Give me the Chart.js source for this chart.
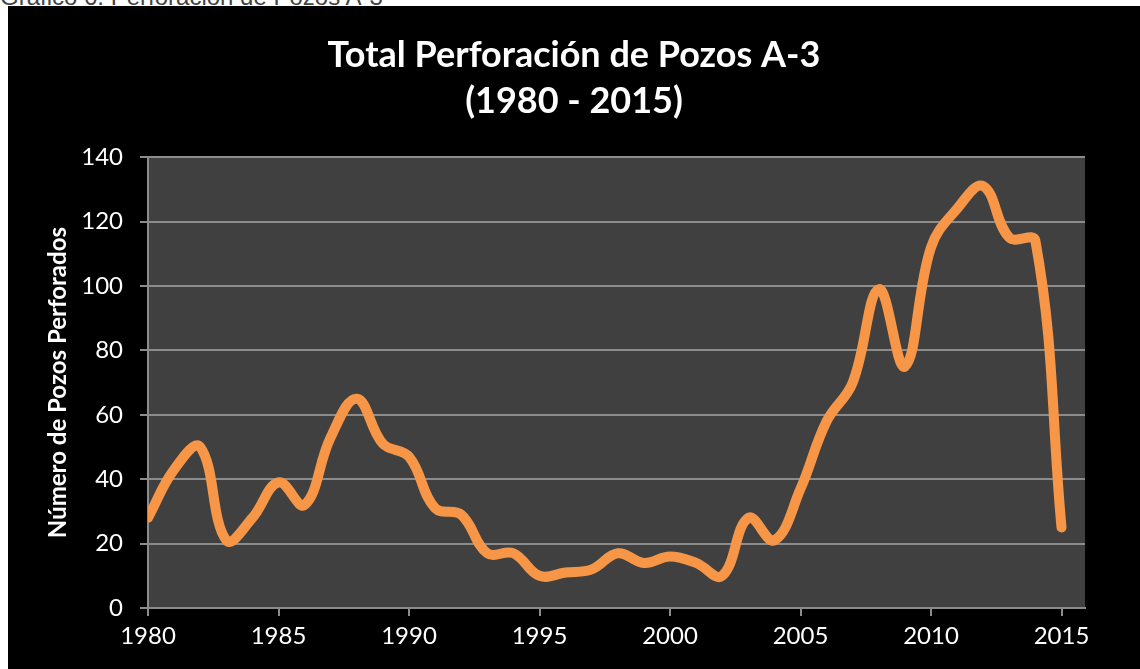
<!DOCTYPE html>
<html>
<head>
    <title>Total Perforación de Pozos A-3</title>
    <script src="https://cdn.jsdelivr.net/npm/chart.js@4.4.1/dist/chart.umd.min.js"></script>
    <style>
        body { margin: 0; background: #fff; width: 1140px; height: 669px; overflow: hidden; position: relative; }
        #caption { position: absolute; left: 0; top: -17px; font: 24px Arial, "Liberation Sans", sans-serif; color: #444; white-space: nowrap; }
        #box { position: absolute; left: 8px; top: 6px; width: 1132px; height: 663px; background: #000; }
    </style>
</head>
<body>
    <div id="caption">Gráfico 6. Perforación de Pozos A-3</div>
    <div id="box"><canvas id="myChart" width="1132" height="663"></canvas></div>

    <script>
        var years = [1980, 1981, 1982, 1983, 1984, 1985, 1986, 1987, 1988, 1989,
                     1990, 1991, 1992, 1993, 1994, 1995, 1996, 1997, 1998, 1999,
                     2000, 2001, 2002, 2003, 2004, 2005, 2006, 2007, 2008, 2009,
                     2010, 2011, 2012, 2013, 2014, 2015];
        var pozos = [28, 43, 50, 21, 28, 39, 32, 53, 65, 51,
                     47, 31, 29, 17, 17, 10, 11, 12, 17, 14,
                     16, 14, 10, 28, 21, 37, 58, 70, 99, 75,
                     112, 124, 131, 115, 114, 25];
        var xTicks = [1980, 1985, 1990, 1995, 2000, 2005, 2010, 2015];
        var yTicks = [0, 20, 40, 60, 80, 100, 120, 140];

        var points = years.map(function (y, i) { return { x: y, y: pozos[i] }; });

        // fondo gris del área de trazado
        var plotBg = {
            id: 'plotBg',
            beforeDraw: function (chart) {
                var a = chart.chartArea, c = chart.ctx;
                c.save();
                c.fillStyle = '#404040';
                c.fillRect(a.left, a.top, a.right - a.left, a.bottom - a.top);
                c.restore();
            }
        };

        var ctx = document.getElementById('myChart').getContext('2d');
        var chart = new Chart(ctx, {
            type: 'line',
            data: {
                datasets: [{
                    label: 'Pozos perforados',
                    data: points,
                    borderColor: '#F79646',
                    borderWidth: 10,
                    borderCapStyle: 'round',
                    borderJoinStyle: 'round',
                    tension: 0.4,
                    pointRadius: 0,
                    fill: false
                }]
            },
            options: {
                responsive: false,
                animation: false,
                layout: { padding: 0 },
                plugins: {
                    legend: { display: false },
                    tooltip: { enabled: false },
                    title: {
                        display: true,
                        text: ['Total Perforación de Pozos A-3', '(1980 - 2015)'],
                        color: '#fff',
                        font: { family: 'Lato', size: 36, weight: 'bold', lineHeight: 1.28 },
                        padding: { top: 26, bottom: 33 }
                    }
                },
                scales: {
                    x: {
                        type: 'linear',
                        min: 1980,
                        max: 2015.9,
                        afterBuildTicks: function (s) {
                            s.ticks = xTicks.map(function (v) { return { value: v }; });
                        },
                        afterFit: function (s) { s.height = 61; },
                        ticks: {
                            color: '#fff',
                            font: { family: 'Lato', size: 24 },
                            padding: 6,
                            maxRotation: 0,
                            callback: function (v) { return String(v); }
                        },
                        grid: { drawOnChartArea: false, color: '#8c8c8c', lineWidth: 2, tickLength: 8 },
                        border: { color: '#8c8c8c', width: 2 }
                    },
                    y: {
                        min: 0,
                        max: 140,
                        afterBuildTicks: function (s) {
                            s.ticks = yTicks.map(function (v) { return { value: v }; });
                        },
                        afterFit: function (s) { s.width = 140; },
                        ticks: {
                            color: '#fff',
                            font: { family: 'Lato', size: 24 },
                            padding: 17
                        },
                        grid: { color: '#8c8c8c', lineWidth: 2, tickLength: 8 },
                        border: { color: '#8c8c8c', width: 2 },
                        title: {
                            display: true,
                            text: 'Número de Pozos Perforados',
                            color: '#fff',
                            font: { family: 'Lato', size: 24, weight: 'bold' },
                            padding: { top: 36, bottom: 0 }
                        }
                    },
                    // eje vacío a la derecha, sólo reserva el margen
                    yRight: {
                        position: 'right',
                        min: 0,
                        max: 140,
                        afterFit: function (s) { s.width = 55; },
                        ticks: { display: false },
                        grid: { display: false },
                        border: { display: false }
                    }
                }
            },
            plugins: [plotBg]
        });
    </script>
</body>
</html>
